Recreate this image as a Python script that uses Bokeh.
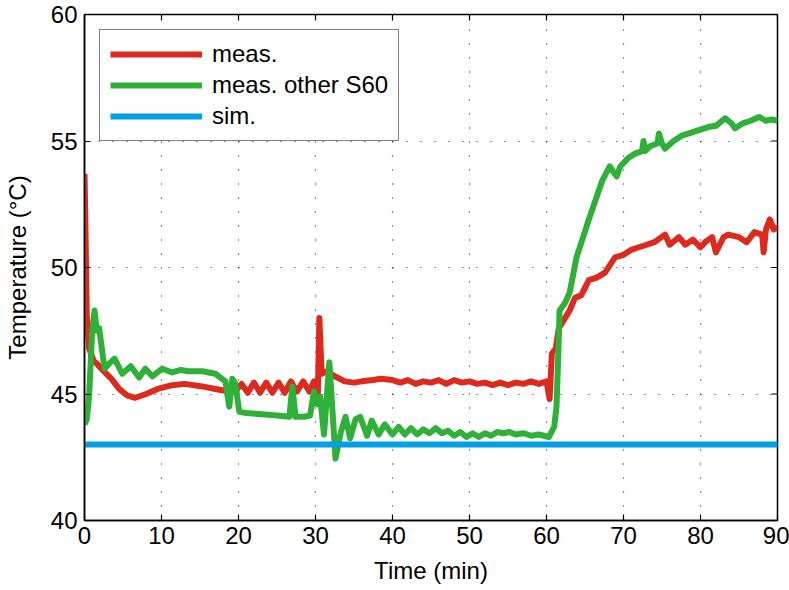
import math
from bokeh.plotting import figure
from bokeh.models import FixedTicker, Range1d, Legend, LegendItem
from bokeh.embed import file_html
from bokeh.resources import INLINE

# ---- data ----
t_meas = [0, 0.1, 0.3, 0.6, 1.2, 1.6, 2.5, 3.5, 4.5, 5.5, 6.6, 8, 9.5, 11.4, 13, 15.3, 17, 18.8,
          19.6, 20.4, 21.2, 22.0, 22.8, 23.6, 24.4, 25.2, 26.0, 26.8, 27.6, 28.4, 29.2, 29.8,
          30.0, 30.3, 30.5, 30.8, 31.5, 32.5, 33.8, 35, 36, 37.5, 38.5, 40, 41, 42, 43, 44, 45,
          46, 47, 48, 49, 50, 51, 52, 53, 54, 55, 56, 57, 58, 59, 60, 60.4, 60.7, 61.2, 61.6,
          62.4, 63, 63.7, 64.5, 65.5, 66.5, 67.6, 68.9, 70, 71, 72, 73, 74, 75.4, 76, 77.2, 78,
          79, 80, 80.6, 81.5, 82, 83, 83.6, 85, 86, 87, 88, 88.2, 88.5, 89, 89.5, 90]
y_meas = [53.7, 52.0, 48.0, 46.8, 46.3, 46.2, 45.9, 45.6, 45.2, 44.95, 44.85, 45.0, 45.2, 45.35,
          45.4, 45.3, 45.2, 45.1,
          45.1, 45.4, 45.05, 45.45, 45.05, 45.45, 45.05, 45.45, 45.05, 45.5, 45.1, 45.5, 45.1, 45.5,
          45.4, 44.9, 48.0, 45.8, 45.9, 45.7, 45.5, 45.45, 45.5, 45.55, 45.6, 45.55, 45.45, 45.55,
          45.4, 45.5, 45.45, 45.55, 45.4, 45.55, 45.45, 45.5, 45.4, 45.45, 45.35, 45.45, 45.35,
          45.45, 45.4, 45.5, 45.4, 45.5, 44.8, 46.6, 46.8, 47.6, 48.0, 48.3, 48.8, 48.9, 49.5,
          49.6, 49.8, 50.4, 50.5, 50.7, 50.8, 50.9, 51.0, 51.3, 50.9, 51.2, 50.9, 51.1, 50.8,
          51.0, 51.2, 50.6, 51.2, 51.3, 51.2, 51.0, 51.4, 51.3, 50.6, 51.5, 51.9, 51.5, 51.6]

t_other = [0, 0.3, 0.6, 1.0, 1.3, 1.6, 1.9, 2.6, 3.2, 3.9, 4.9, 6.0, 7.1, 7.9, 8.8, 10.1, 11.4,
           12.5, 13.5, 15.3, 17, 18.3, 18.8, 19.2, 19.6, 20.1, 21, 23, 25, 26.6, 27, 27.4, 28.5,
           29.3, 29.8, 30.2, 30.6, 31.1, 31.8, 32.6, 33.3, 33.9, 34.5, 35.2, 35.8, 36.7, 37.3,
           38.2, 39.0, 40.0, 40.8, 41.6, 42.4, 43.2, 44.0, 44.8, 45.6, 46.4, 47.2, 48.0, 48.8,
           49.6, 50.4, 51.2, 52.0, 52.8, 53.6, 54.4, 55.2, 56, 57, 58, 59, 60.3, 61.0, 61.3,
           61.5, 61.7, 62.4, 63.0, 63.9, 65.5, 67.2, 68.2, 69.1, 69.6, 70.7, 71.5, 72.4, 72.6,
           72.8, 73.5, 74.4, 74.6, 75.0, 75.4, 76.5, 77.5, 78.5, 79.5, 81, 82, 83.2, 84.0, 84.5,
           85.5, 86.5, 87.6, 88.5, 89.2, 90]
y_other = [43.8, 44.0, 44.9, 47.5, 48.3, 47.5, 47.6, 46.0, 46.2, 46.4, 45.8, 46.1, 45.65, 46.0,
           45.7, 46.0, 45.85, 45.95, 45.9, 45.9, 45.8, 45.5, 44.5, 45.6, 45.4, 44.3, 44.25, 44.2,
           44.15, 44.1, 45.3, 44.1, 44.1, 44.15, 45.1, 44.6, 44.9, 43.4, 46.25, 42.45, 43.5, 44.1,
           43.25, 44.0, 44.1, 43.35, 43.95, 43.4, 43.8, 43.4, 43.7, 43.4, 43.65, 43.4, 43.6,
           43.45, 43.65, 43.45, 43.55, 43.35, 43.5, 43.3, 43.45, 43.3, 43.45, 43.35, 43.5, 43.45,
           43.5, 43.4, 43.45, 43.35, 43.4, 43.3, 43.7, 44.5, 46.3, 48.3, 48.6, 49.0, 50.4, 51.9,
           53.4, 54.0, 53.6, 54.0, 54.35, 54.5, 54.6, 55.0, 54.6, 54.8, 54.9, 55.3, 54.9, 54.7,
           55.0, 55.2, 55.3, 55.4, 55.55, 55.6, 55.9, 55.7, 55.5, 55.7, 55.8, 55.95, 55.8, 55.85,
           55.8]

t_sim = [0, 90]
y_sim = [43.0, 43.0]

x_ticks = [0, 10, 20, 30, 40, 50, 60, 70, 80, 90]
y_ticks = [40, 45, 50, 55, 60]
x_max = 90
y_max = 60

FONT = "Liberation Sans"

p = figure(width=789, height=590, output_backend="svg", toolbar_location=None,
           x_range=Range1d(0, 90), y_range=Range1d(40, 60),
           min_border_left=82, min_border_right=12, min_border_top=14, min_border_bottom=70)

p.background_fill_color = "white"
p.border_fill_color = "white"
p.outline_line_color = "black"
p.outline_line_width = 1.5

# grid
for g in (p.xgrid, p.ygrid):
    g.grid_line_color = "black"
    g.grid_line_dash = "1 13"
    g.grid_line_width = 1.2
    g.grid_line_alpha = 0.85
p.xgrid.ticker = FixedTicker(ticks=x_ticks)
p.ygrid.ticker = FixedTicker(ticks=y_ticks)

# main axes
p.xaxis.ticker = FixedTicker(ticks=x_ticks)
p.yaxis.ticker = FixedTicker(ticks=y_ticks)
for ax in (p.xaxis[0], p.yaxis[0]):
    ax.major_tick_in = 6
    ax.major_tick_out = 0
    ax.minor_tick_line_color = None
    ax.major_tick_line_color = "black"
    ax.major_tick_line_width = 1.2
    ax.axis_line_color = "black"
    ax.axis_line_width = 1.5
    ax.major_label_text_font = FONT
    ax.major_label_text_font_size = "24px"
    ax.major_label_text_color = "black"
    ax.axis_label_text_font = FONT
    ax.axis_label_text_font_size = "24px"
    ax.axis_label_text_font_style = "normal"
    ax.axis_label_text_color = "black"

p.xaxis.axis_label = "Time (min)"
p.yaxis.axis_label = "Temperature (°C)"
p.xaxis.major_label_standoff = 6
p.xaxis.axis_label_standoff = 10
p.yaxis.major_label_standoff = 7
p.yaxis.axis_label_standoff = 17

# mirrored inward ticks on top and right (dash markers clipped by the frame)
p.scatter(x=x_ticks, y=[y_max] * len(x_ticks), marker="dash", size=12, angle=math.pi / 2,
          line_color="black", line_width=1.2)
p.scatter(x=[x_max] * len(y_ticks), y=y_ticks, marker="dash", size=12,
          line_color="black", line_width=1.2)

r1 = p.line(t_meas, y_meas, line_color="#dc2a1e", line_width=6, line_join="round")
r2 = p.line(t_other, y_other, line_color="#2fb039", line_width=6, line_join="round")
r3 = p.line(t_sim, y_sim, line_color="#00a0e3", line_width=6)

legend = Legend(items=[LegendItem(label="meas.", renderers=[r1]),
                       LegendItem(label="meas. other S60", renderers=[r2]),
                       LegendItem(label="sim.", renderers=[r3])],
                location="top_left")
legend.margin = 15
legend.padding = 10
legend.spacing = 3
legend.glyph_width = 92
legend.glyph_height = 28
legend.label_height = 28
legend.label_standoff = 10
legend.label_text_font = FONT
legend.label_text_font_size = "24px"
legend.label_text_color = "black"
legend.border_line_color = "black"
legend.border_line_width = 1.5
legend.background_fill_color = "white"
legend.background_fill_alpha = 1.0
p.add_layout(legend, "center")

open("out.html", "w").write(file_html(p, INLINE))
